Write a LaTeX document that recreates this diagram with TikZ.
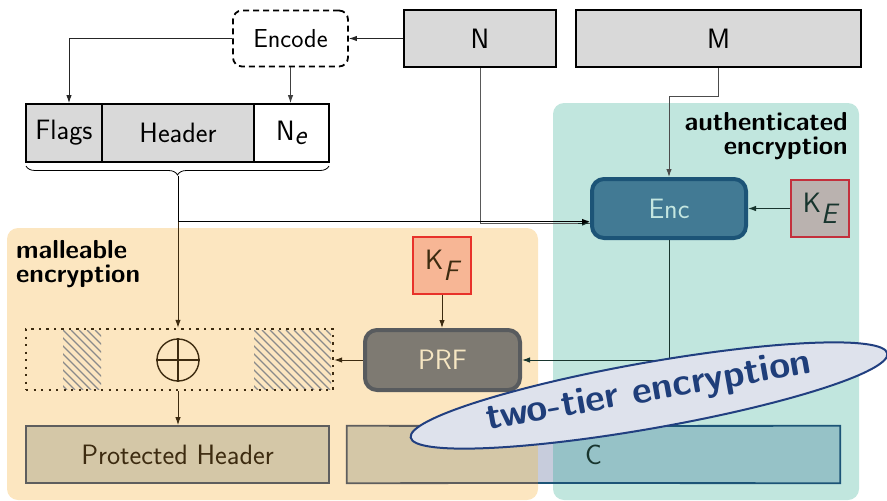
\documentclass[tikz,border=0pt]{standalone}
\usepackage{fontspec}
\usetikzlibrary{arrows.meta,decorations.pathreplacing,shapes.geometric,calc}

\definecolor{grayfill}{HTML}{D9D9D9}
\definecolor{tealbg}{HTML}{C1E6DE}
\definecolor{orangebg}{HTML}{FCE6C0}
\definecolor{encfill}{HTML}{427A94}
\definecolor{encdraw}{HTML}{1C5477}
\definecolor{enctext}{HTML}{C4E6E0}
\definecolor{kefill}{HTML}{BAB2AF}
\definecolor{kedraw}{HTML}{C3303C}
\definecolor{kffill}{HTML}{F7B695}
\definecolor{kfdraw}{HTML}{E8322A}
\definecolor{prffill}{HTML}{7E7A72}
\definecolor{prfdraw}{HTML}{585B5E}
\definecolor{prftext}{HTML}{F6E6C2}
\definecolor{brownink}{HTML}{3D2B10}
\definecolor{phfill}{HTML}{D4C7A7}
\definecolor{phdraw}{HTML}{5E5E5E}
\definecolor{gapfill}{HTML}{C7CCDC}
\definecolor{ctealfill}{HTML}{96C2C7}
\definecolor{ellfill}{HTML}{DEE2EC}
\definecolor{elldraw}{HTML}{213F80}
\definecolor{elltext}{HTML}{1F3E7A}
\definecolor{greenink}{HTML}{18352E}
\definecolor{hatchgray}{HTML}{8A8A8A}

\tikzset{
  box/.style={draw=black, line width=1.8pt, inner sep=0pt, rectangle},
  graybox/.style={box, fill=grayfill},
  keybox/.style={rectangle, line width=1.6pt, inner sep=0pt,
    minimum width=58pt, minimum height=57pt},
  roundbox/.style={rectangle, rounded corners=12pt, line width=4pt, inner sep=0pt},
  arr/.style={-{Latex[length=8pt,width=5.5pt]}, line width=1pt},
  bgpanel/.style={rounded corners=11pt},
  panellabel/.style={font=\sffamily\bfseries\fontsize{26}{24}\selectfont, inner sep=0pt},
}

\begin{document}
\begin{tikzpicture}[x=1pt, y=-1pt, font=\sffamily\fontsize{28}{30}\selectfont]
\useasboundingbox (0,0) rectangle (887,501);

% background panels
\fill[tealbg, bgpanel] (553,103) rectangle (859,500);
\fill[orangebg, bgpanel] (7,228) rectangle (538,500);

\node[panellabel, anchor=north east, align=right] at (848,112) {authenticated\\encryption};
\node[panellabel, anchor=north west, align=left] at (16,240) {malleable\\encryption};

% inputs
\node[graybox, minimum width=152pt, minimum height=57pt] (N) at (480,38.5) {N};
\node[graybox, minimum width=285pt, minimum height=57pt] (M) at (718.5,38.5) {M};
\node[draw=black, dashed, dash pattern=on 6pt off 4pt, line width=1.8pt, rounded corners=9pt,
      minimum width=115pt, minimum height=56pt, inner sep=0pt,
      font=\sffamily\fontsize{26}{28}\selectfont] (encode) at (290.5,38.5) {Encode};

% header fields
\node[graybox, minimum width=76pt, minimum height=58pt] (flags) at (64,133) {Flags};
\node[graybox, minimum width=152pt, minimum height=58pt] (header) at (178,133) {Header};
\node[box, fill=white, minimum width=75pt, minimum height=58pt] (ne) at (291.5,133) {N$_{\textit{e}}$};

% brace under the header
\draw[line width=0.8pt, decorate, decoration={brace, mirror, amplitude=9pt}] (26,166) -- (329,166);
\coordinate (bt) at (178,175.5);
\coordinate (br) at (178,221.5);

% authenticated encryption
\node[roundbox, draw=encdraw, fill=encfill, text=enctext, minimum width=154pt, minimum height=59pt] (Enc) at (669,208.5) {Enc};
\node[keybox, draw=kedraw, fill=kefill, text=greenink] (KE) at (820,208.5) {K$_{\textit{E}}$};

% malleable encryption
\node[keybox, draw=kfdraw, fill=kffill, text=brownink] (KF) at (442,265.5) {K$_{\textit{F}}$};
\node[roundbox, draw=prfdraw, fill=prffill, text=prftext, minimum width=155pt, minimum height=60pt] (PRF) at (442.5,360) {PRF};

% masked block with hatched parts
\begin{scope}
  \clip (63,330) rectangle (101,389);
  \foreach \s in {-64,-56,...,48} \draw[hatchgray, line width=1.1pt] (63+\s,330) -- ++(60,60);
\end{scope}
\begin{scope}
  \clip (254,330) rectangle (331,389);
  \foreach \s in {-64,-56,...,88} \draw[hatchgray, line width=1.1pt] (254+\s,330) -- ++(60,60);
\end{scope}
\node[draw=brownink, line width=2.4pt, dash pattern=on 2.4pt off 5.1pt, line cap=butt,
      minimum width=307pt, minimum height=61pt, inner sep=0pt] (xor) at (179.5,359.5) {};
\node[circle, draw=brownink, line width=1.4pt, minimum size=42pt, inner sep=0pt] (xo) at (178,360) {};
\draw[brownink, line width=1.4pt] (xo.north) -- (xo.south) (xo.west) -- (xo.east);

% outputs
\node[rectangle, draw=phdraw, fill=phfill, line width=1.8pt, text=brownink,
      minimum width=303pt, minimum height=57pt, inner sep=0pt] (PH) at (177.5,454.5) {Protected Header};
\node[rectangle, minimum width=493pt, minimum height=57pt, inner sep=0pt] (C) at (593.5,454.5) {};
\fill[phfill] (C.north west) rectangle (538,483);
\fill[gapfill] (538,426) rectangle (553,483);
\fill[ctealfill] (553,426) rectangle (C.south east);
\draw[phdraw, line width=1.8pt] (538,426) -- (C.north west) -- (C.south west) -- (538,483);
\draw[encdraw, line width=1.8pt] (538,426) -- (C.north east) -- (C.south east) -- (538,483);
\node[text=greenink] at (C.center) {C};

% connectors
\draw[arr, black!85] (N.west) -- (encode.east);
\draw[arr, black!85] (encode.west) -| ([xshift=5pt]flags.north);
\draw[arr, black!75] (encode.south) -- (encode.south |- ne.north);
\draw[line width=1pt, black!65] (N.south) |- ($(Enc.west)+(0,14.5)$);
\draw[arr, greenink!80!black] ($(Enc.west)+(-12,14.5)$) -- ($(Enc.west)+(0,14.5)$);
\draw[arr, black!70] (M.south) -- ++(0,28.5) -| (Enc.north);
\draw[line width=1pt, black] (bt) -- (br);
\draw[arr, brownink] (br) -- (bt |- xor.north);
\draw[arr, black] (br) -- (br -| Enc.west);
\draw[arr, greenink] (KE.west) -- (KE.west -| Enc.east);
\draw[arr, greenink] (Enc.south) |- (PRF.east);
\draw[arr, brownink] (KF.south) -- (KF.south |- PRF.north);
\draw[arr, brownink] (PRF.west) -- (PRF.west -| xor.east);
\draw[arr, brownink] (xo |- xor.south) -- (xo |- PH.north);

% two-tier label
\node[ellipse, draw=elldraw, fill=ellfill, line width=2pt, minimum width=484pt, minimum height=66pt,
      inner sep=0pt, rotate=10] (ell) at (649,395.5) {};
\node[rotate=10, text=elltext, font=\sffamily\bfseries\fontsize{38}{38}\selectfont, inner sep=0pt]
      (twotier) at ($(ell.center)+(0,-3)$) {two-tier\ encryption};
\end{tikzpicture}
\end{document}
